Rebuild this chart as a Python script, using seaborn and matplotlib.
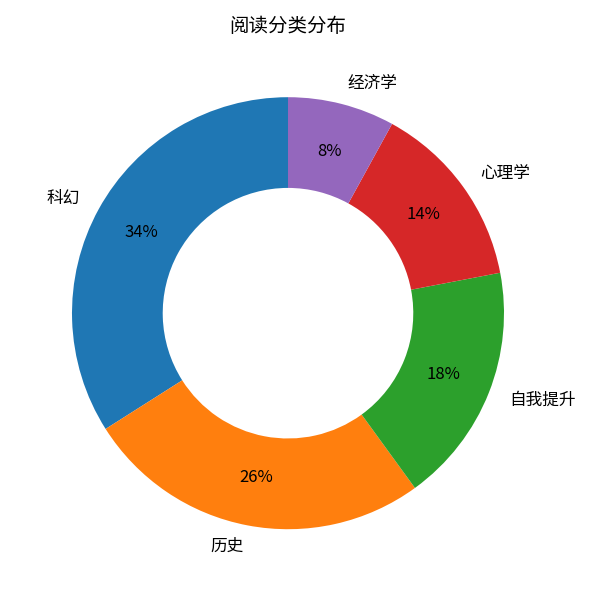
import matplotlib
matplotlib.use('Agg')
import matplotlib.pyplot as plt
import seaborn as sns

# 阅读分类数据
categories = ['科幻', '历史', '自我提升', '心理学', '经济学']
shares = [34, 26, 18, 14, 8]

plt.rcParams['font.family'] = ['Noto Sans CJK SC', 'DejaVu Sans']
colors = sns.color_palette('tab10', len(categories))

fig = plt.figure(figsize=(6, 6), dpi=100)
ax = fig.add_axes([0.03, 0.028, 0.9, 0.9])
ax.pie(shares, labels=categories, colors=colors, autopct='%1.0f%%',
       startangle=90, pctdistance=0.775, labeldistance=1.1,
       wedgeprops=dict(width=0.42), textprops=dict(fontsize=12))
ax.set_xlim(-1.25, 1.25)
ax.set_ylim(-1.25, 1.25)
ax.set_aspect('equal')
fig.text(0.48, 0.955, '阅读分类分布', fontsize=14, ha='center', va='center')
plt.savefig('out.png')
